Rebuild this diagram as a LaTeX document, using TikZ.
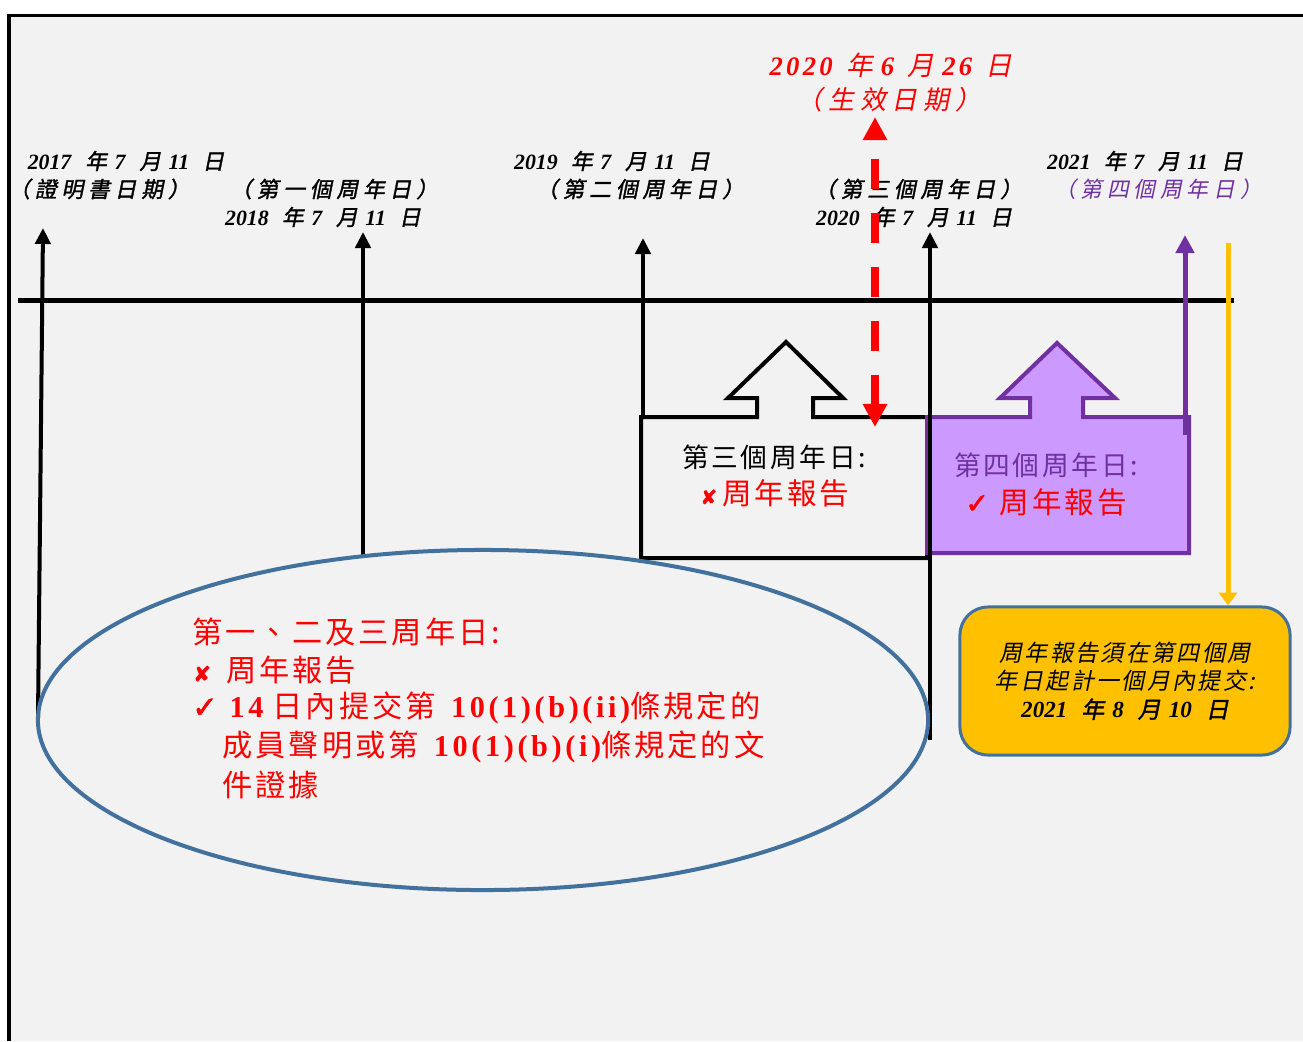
\documentclass[tikz,border=0pt]{standalone}
\usepackage{fontspec}
\setmainfont{Liberation Serif}
\newfontfamily\cjk[LetterSpace=10]{Noto Sans CJK TC}
\newfontfamily\cjkit[LetterSpace=10,FakeSlant=0.2]{Noto Sans CJK TC}
\newfontfamily\cjkbi[LetterSpace=10,FakeSlant=0.2,FakeBold=1.5]{Noto Sans CJK TC}
\newfontfamily\cjkbw[LetterSpace=22,FakeSlant=0.2,FakeBold=1.5]{Noto Sans CJK TC}
\newfontfamily\cjkitw[LetterSpace=22,FakeSlant=0.2]{Noto Sans CJK TC}
\newfontfamily\symfont[FakeBold=2]{DejaVu Sans}
\newfontfamily\wideserif[LetterSpace=12]{Liberation Serif}
\usetikzlibrary{arrows.meta}
\definecolor{bggray}{HTML}{F2F2F2}
\definecolor{effred}{HTML}{FF0000}
\definecolor{anniv}{HTML}{7030A0}
\definecolor{annivfill}{HTML}{CC99FF}
\definecolor{duegold}{HTML}{FFC000}
\definecolor{ovalblue}{HTML}{41719C}
\def\datelbl#1#2#3{\textbf{\textit{#1}}\hspace{0.6em}{\cjkbi 年}\hspace{0.25em}\textbf{\textit{#2}}\hspace{0.6em}{\cjkbi 月}\hspace{0.25em}\textbf{\textit{#3}}\hspace{0.6em}{\cjkbi 日}}
\tikzset{
  yeararrow/.style={line width=0.1cm, -{Triangle[width=0.38cm,length=0.4cm]}},
  datelabel/.style={inner sep=0pt, font=\fontsize{15.5}{18}\selectfont},
  boxline/.style={line width=0.1cm, line join=miter},
  boxtext/.style={inner sep=0pt, font=\fontsize{19}{22}\selectfont},
  ovaltext/.style={anchor=west, inner sep=0pt, text=effred, font=\fontsize{21.5}{25}\selectfont},
}

\begin{document}
\begin{tikzpicture}[x=0.025cm, y=-0.025cm]
			%%%%% START %%%%%
			\useasboundingbox (0, 0) rectangle (1303, 1041);
			\fill[bggray] (9, 15) rectangle (1303, 1041);
			\draw[line width=0.075cm] (9, 1041) -- (9, 15) -- (1303, 15);
			
			% time line
			\coordinate (tl0) at (18, 300);
			\coordinate (tl1) at (1234, 300);
			\draw[line width=0.125cm] (tl0) -- (tl1);
			
			\coordinate (a17b) at (38, 718);
			\coordinate (a17t) at (43, 228);
			\coordinate (a18b) at (363, 555);
			\coordinate (a18t) at (363, 232);
			\coordinate (a19b) at (643, 557);
			\coordinate (a19t) at (643, 238);
			\coordinate (a20b) at (930, 740);
			\coordinate (a20t) at (930, 232);
			\draw[yeararrow] (a17b) -- (a17t);
			\draw[yeararrow] (a18b) -- (a18t);
			\draw[yeararrow] (a19b) -- (a19t);
			
			% third anniversary box
			\draw[boxline, fill=bggray] (641, 558) -- (641, 417) -- (757, 417) -- (757, 398) -- (728, 398) -- (786, 342) -- (843, 398) -- (813, 398) -- (813, 417) -- (927, 417) -- (927, 558) -- cycle;
			% fourth anniversary box
			\draw[boxline, draw=anniv, fill=annivfill] (927, 553) -- (927, 417) -- (1030, 417) -- (1030, 398) -- (1000, 398) -- (1057, 343) -- (1115, 398) -- (1083, 398) -- (1083, 417) -- (1189, 417) -- (1189, 553) -- cycle;
			
			\draw[yeararrow] (a20b) -- (a20t);
			
			\coordinate (a21b) at (1185, 435);
			\coordinate (a21t) at (1185, 235);
			\draw[anniv, line width=0.125cm, -{Triangle[width=0.45cm,length=0.45cm]}] (a21b) -- (a21t);
			
			\draw[ovalblue, line width=0.1cm] (483, 720) ellipse [x radius=11.125cm, y radius=4.25cm];
			
			% labels above the time line
			\node[datelabel] (d17) at (126, 161) {\datelbl{2017}{7}{11}};
			\node[datelabel] (c17) at (99, 189) {\cjkbw （證明書日期）};
			\node[datelabel] (c18) at (334, 189) {\cjkbw （第一個周年日）};
			\node[datelabel] (d18) at (323, 217) {\datelbl{2018}{7}{11}};
			\node[datelabel] (d19) at (612, 161) {\datelbl{2019}{7}{11}};
			\node[datelabel] (c19) at (640, 189) {\cjkbw （第二個周年日）};
			\node[datelabel] (c20) at (918, 189) {\cjkbw （第三個周年日）};
			\node[datelabel] (d20) at (914, 217) {\datelbl{2020}{7}{11}};
			\node[datelabel] (d21) at (1145, 161) {\datelbl{2021}{7}{11}};
			\node[datelabel, text=anniv] (c21) at (1158, 189) {\cjkitw （第四個周年日）};
			
			\node[inner sep=0pt, text=effred, font=\fontsize{19}{23}\selectfont] (deff) at (891, 65) {{\wideserif\bfseries\itshape 2020}\hspace{0.5em}{\cjkit 年}\hspace{0.3em}{\wideserif\bfseries\itshape 6}\hspace{0.5em}{\cjkit 月}\hspace{0.3em}{\wideserif\bfseries\itshape 26}\hspace{0.5em}{\cjkit 日}};
			\node[inner sep=0pt, text=effred, font=\fontsize{18.5}{22}\selectfont] (ceff) at (889, 100) {\cjkitw （生效日期）};
			
			% box texts
			\node[boxtext] (t3a) at (774, 457) {\cjk 第三個周年日:};
			\node[boxtext, text=effred] (t3b) at (775, 493) {{\symfont\fontsize{14}{16}\selectfont ✘}\hspace{0.2em}{\fontsize{21}{24}\selectfont\cjk 周年報告}};
			\node[boxtext, text=anniv] (t4a) at (1046, 465) {\cjk 第四個周年日:};
			\node[boxtext, text=effred] (t4b) at (1046, 502) {{\symfont\fontsize{20}{24}\selectfont ✓}\hspace{0.4em}{\fontsize{21}{24}\selectfont\cjk 周年報告}};
			
			% text in the oval
			\node[ovaltext] (o1) at (192, 632) {\cjk 第一、二及三周年日:};
			\node[ovaltext] (o2) at (193, 670) {{\symfont\fontsize{15}{17}\selectfont ✘}\hspace{0.5em}{\cjk 周年報告}};
			\node[ovaltext] (o3) at (192, 708) {{\symfont ✓}\hspace{0.4em}{\wideserif\bfseries 14}\hspace{0.3em}{\cjk 日內提交第}\hspace{0.5em}{\wideserif\bfseries 10(1)(b)(ii)}{\cjk 條規定的}};
			\node[ovaltext] (o4) at (222, 747) {{\cjk 成員聲明或第}\hspace{0.5em}{\wideserif\bfseries 10(1)(b)(i)}{\cjk 條規定的文}};
			\node[ovaltext] (o5) at (222, 785) {\cjk 件證據};
			
			% deadline box
			\node[draw=ovalblue, line width=0.075cm, fill=duegold, rounded corners=0.7cm, minimum width=8.25cm, minimum height=3.7cm, align=center, font=\fontsize{16.4}{20}\selectfont] (due) at (1125, 681) {{\cjkit 周年報告須在第四個周}\\{\cjkit 年日起計一個月內提交:}\\\datelbl{2021}{8}{10}};
			\coordinate (ytop) at (1228, 243);
			\draw[duegold, line width=0.125cm, -{Triangle[width=0.45cm,length=0.32cm]}] (ytop) -- (ytop |- due.north);
			
			% effective date arrow
			\coordinate (effb) at (875, 427);
			\coordinate (efft) at (875, 117);
			\draw[effred, line width=0.2cm, dash pattern=on 0.75cm off 0.6cm, {Triangle[width=0.58cm,length=0.58cm]}-{Triangle[width=0.58cm,length=0.58cm]}] (effb) -- (efft);
			
			%%%%% END %%%%%
\end{tikzpicture}
\end{document}
